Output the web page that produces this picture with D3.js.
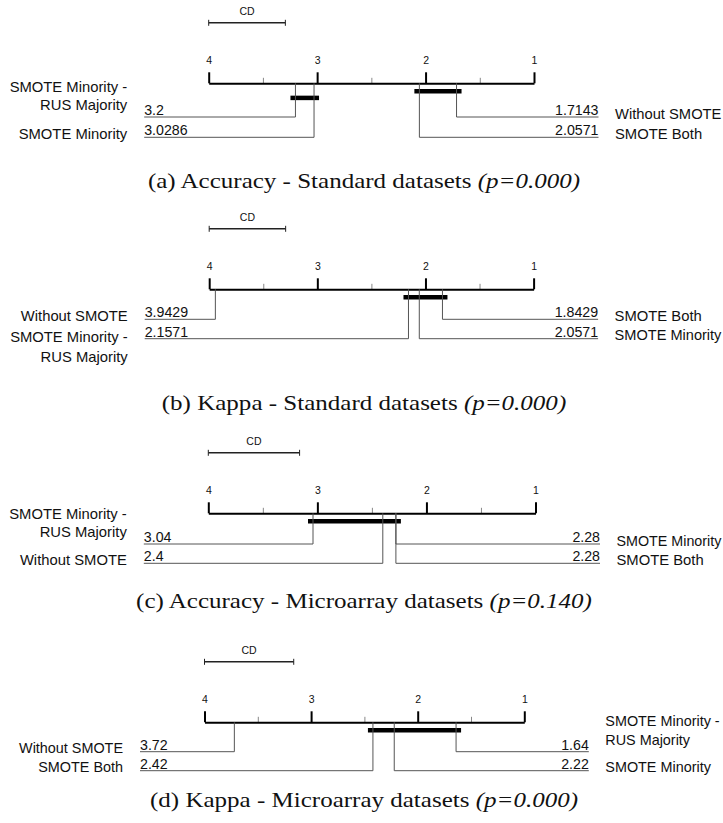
<!DOCTYPE html>
<html>
<head>
<meta charset="utf-8">
<script src="https://cdn.jsdelivr.net/npm/d3@7"></script>
<style>
  html, body { margin: 0; padding: 0; background: #fff; }
  svg { display: block; }
</style>
</head>
<body>
<script>
// ---------------- DATA ----------------
// methods in drawing order: first half on the left (worse ranks), second half on the right
const methodsA = ["SMOTE Minority - RUS Majority", "SMOTE Minority", "Without SMOTE", "SMOTE Both"];
const ranksA   = [3.2, 3.0286, 1.7143, 2.0571];
const cliquesA = [[2.0571, 1.7143], [3.2, 3.0286]];
const cdA = 0.707;
const captionA = ["(a) Accuracy - Standard datasets", "(p=0.000)"];

const methodsB = ["Without SMOTE", "SMOTE Minority - RUS Majority", "SMOTE Both", "SMOTE Minority"];
const ranksB   = [3.9429, 2.1571, 1.8429, 2.0571];
const cliquesB = [[2.1571, 1.8429]];
const cdB = 0.707;
const captionB = ["(b) Kappa - Standard datasets", "(p=0.000)"];

const methodsC = ["SMOTE Minority - RUS Majority", "Without SMOTE", "SMOTE Minority", "SMOTE Both"];
const ranksC   = [3.04, 2.4, 2.28, 2.28];
const cliquesC = [[3.04, 2.28]];
const cdC = 0.837;
const captionC = ["(c) Accuracy - Microarray datasets", "(p=0.140)"];

const methodsD = ["Without SMOTE", "SMOTE Both", "SMOTE Minority - RUS Majority", "SMOTE Minority"];
const ranksD   = [3.72, 2.42, 1.64, 2.22];
const cliquesD = [[2.42, 1.64]];
const cdD = 0.837;
const captionD = ["(d) Kappa - Microarray datasets", "(p=0.000)"];

const axisTicks  = [4, 3, 2, 1];
const minorTicks = [3.5, 2.5, 1.5];

// ---------------- LAYOUT ----------------
const layout = [
  { axisY: 83.3,  x0: 208.7, x1: 534.0, lineDy: [33.7, 54.0], wrap: "up",   capBase: 188, fs: 14.8 },
  { axisY: 289.3, x0: 209.2, x1: 533.6, lineDy: [30.0, 49.4], wrap: "down", capBase: 410, fs: 14.8 },
  { axisY: 513.3, x0: 208.3, x1: 535.5, lineDy: [30.7, 50.0], wrap: "up",   capBase: 608, fs: 14.8 },
  { axisY: 722.3, x0: 204.5, x1: 524.3, lineDy: [29.4, 48.4], wrap: "up",   capBase: 807, fs: 14.4 }
];
const captionRefWidth = 456; // measured width of caption (c)

const panels = [
  { methods: methodsA, ranks: ranksA, cliques: cliquesA, cd: cdA, caption: captionA },
  { methods: methodsB, ranks: ranksB, cliques: cliquesB, cd: cdB, caption: captionB },
  { methods: methodsC, ranks: ranksC, cliques: cliquesC, cd: cdC, caption: captionC },
  { methods: methodsD, ranks: ranksD, cliques: cliquesD, cd: cdD, caption: captionD }
];

const W = 723, H = 823;
const sans = "'Liberation Sans', Arial, Helvetica, sans-serif";
const serif = "'Liberation Serif', 'Times New Roman', serif";
const lineColor = "#555";

const svg = d3.select("body").append("svg")
  .attr("width", W).attr("height", H)
  .attr("viewBox", `0 0 ${W} ${H}`);
svg.append("rect").attr("width", W).attr("height", H).attr("fill", "#fff");

const captions = [];

panels.forEach((p, pi) => {
  const L = layout[pi];
  const x = d3.scaleLinear().domain([4, 1]).range([L.x0, L.x1]);
  const g = svg.append("g");
  const ay = L.axisY;

  // CD bar
  const cdG = g.append("g").attr("transform", `translate(0,${ay - 60.5})`);
  cdG.append("line").attr("x1", x(4)).attr("x2", x(4 - p.cd)).attr("y1", 0).attr("y2", 0)
    .attr("stroke", "#222").attr("stroke-width", 1.4);
  [4, 4 - p.cd].forEach(v => cdG.append("line")
    .attr("x1", x(v)).attr("x2", x(v)).attr("y1", -3).attr("y2", 3)
    .attr("stroke", "#222").attr("stroke-width", 1));
  cdG.append("text").attr("x", (x(4) + x(4 - p.cd)) / 2).attr("y", -7.5)
    .attr("text-anchor", "middle").attr("font-family", sans).attr("font-size", 10.5)
    .attr("fill", "#111").text("CD");

  // minor ticks
  const minor = g.append("g").attr("transform", `translate(0,${ay})`)
    .call(d3.axisTop(x).tickValues(minorTicks).tickSize(5.5).tickFormat(""));
  minor.select(".domain").remove();
  minor.selectAll(".tick line").attr("stroke", "#888").attr("stroke-width", 1);

  // main axis
  const ax = g.append("g").attr("transform", `translate(0,${ay})`)
    .call(d3.axisTop(x).tickValues(axisTicks).tickSize(11).tickSizeOuter(0)
      .tickPadding(8.5).tickFormat(d3.format("d")));
  ax.select(".domain").attr("stroke", "#000").attr("stroke-width", 2);
  ax.selectAll(".tick line").attr("stroke", "#000").attr("stroke-width", 2);
  ax.selectAll(".tick text").attr("font-family", sans).attr("font-size", 10.5).attr("fill", "#111");

  // clique bars
  p.cliques.forEach((c, ci) => {
    const xa = x(d3.max(c)) - 5, xb = x(d3.min(c)) + 5;
    g.append("line").attr("x1", xa).attr("x2", xb)
      .attr("y1", ay + 8 + ci * 6.6).attr("y2", ay + 8 + ci * 6.6)
      .attr("stroke", "#000").attr("stroke-width", 4.5);
  });

  // method lines and labels
  const half = p.methods.length / 2;
  p.methods.forEach((name, k) => {
    const left = k < half;
    const j = k % half;
    const r = p.ranks[k];
    const ly = ay + L.lineDy[j];
    const endX = left ? L.x0 - 64.5 : L.x1 + 64.5;
    g.append("path")
      .attr("d", `M${x(r)},${ay}V${ly}H${endX}`)
      .attr("fill", "none").attr("stroke", lineColor).attr("stroke-width", 1);
    g.append("text").attr("x", endX).attr("y", ly - 2)
      .attr("text-anchor", left ? "start" : "end")
      .attr("font-family", sans).attr("font-size", 14.2).attr("fill", "#111")
      .text(String(r));

    const parts = name.includes(" - ") ? [name.split(" - ")[0] + " -", name.split(" - ")[1]] : [name];
    let centers;
    if (parts.length === 1) centers = [ly - 3.5];
    else if (L.wrap === "up") centers = [ly - 30.5, ly - 12];
    else centers = [ly - 1.5, ly + 18];
    parts.forEach((t, ti) => {
      const tx = left ? endX - 17 : endX + 16.5;
      const lab = g.append("text")
        .attr("x", tx)
        .attr("y", centers[ti] + 5)
        .attr("text-anchor", left ? "end" : "start")
        .attr("font-family", sans).attr("font-size", L.fs).attr("fill", "#111")
        .text(t);
      if (!left) {
        // keep right-hand labels inside the picture
        const w = lab.node().getComputedTextLength();
        if (tx + w > W - 1.5) lab.attr("font-size", L.fs * (W - 1.5 - tx) / w);
      }
    });
  });

  // caption
  const cg = svg.append("g").attr("transform", `translate(364,${L.capBase})`);
  const cap = cg.append("text").attr("x", 0).attr("y", 0)
    .attr("text-anchor", "middle").attr("font-family", serif).attr("font-size", 20)
    .attr("fill", "#111");
  cap.append("tspan").text(p.caption[0] + " ");
  cap.append("tspan").attr("font-style", "italic").text(p.caption[1]);
  captions.push({ g: cg, text: cap, base: L.capBase });
});

// widen the serif captions to the Computer-Modern-like width of the original
const refW = captions[2].text.node().getComputedTextLength();
const sx = captionRefWidth / refW;
captions.forEach(c => c.g.attr("transform", `translate(364,${c.base}) scale(${sx},1)`));
</script>
</body>
</html>
